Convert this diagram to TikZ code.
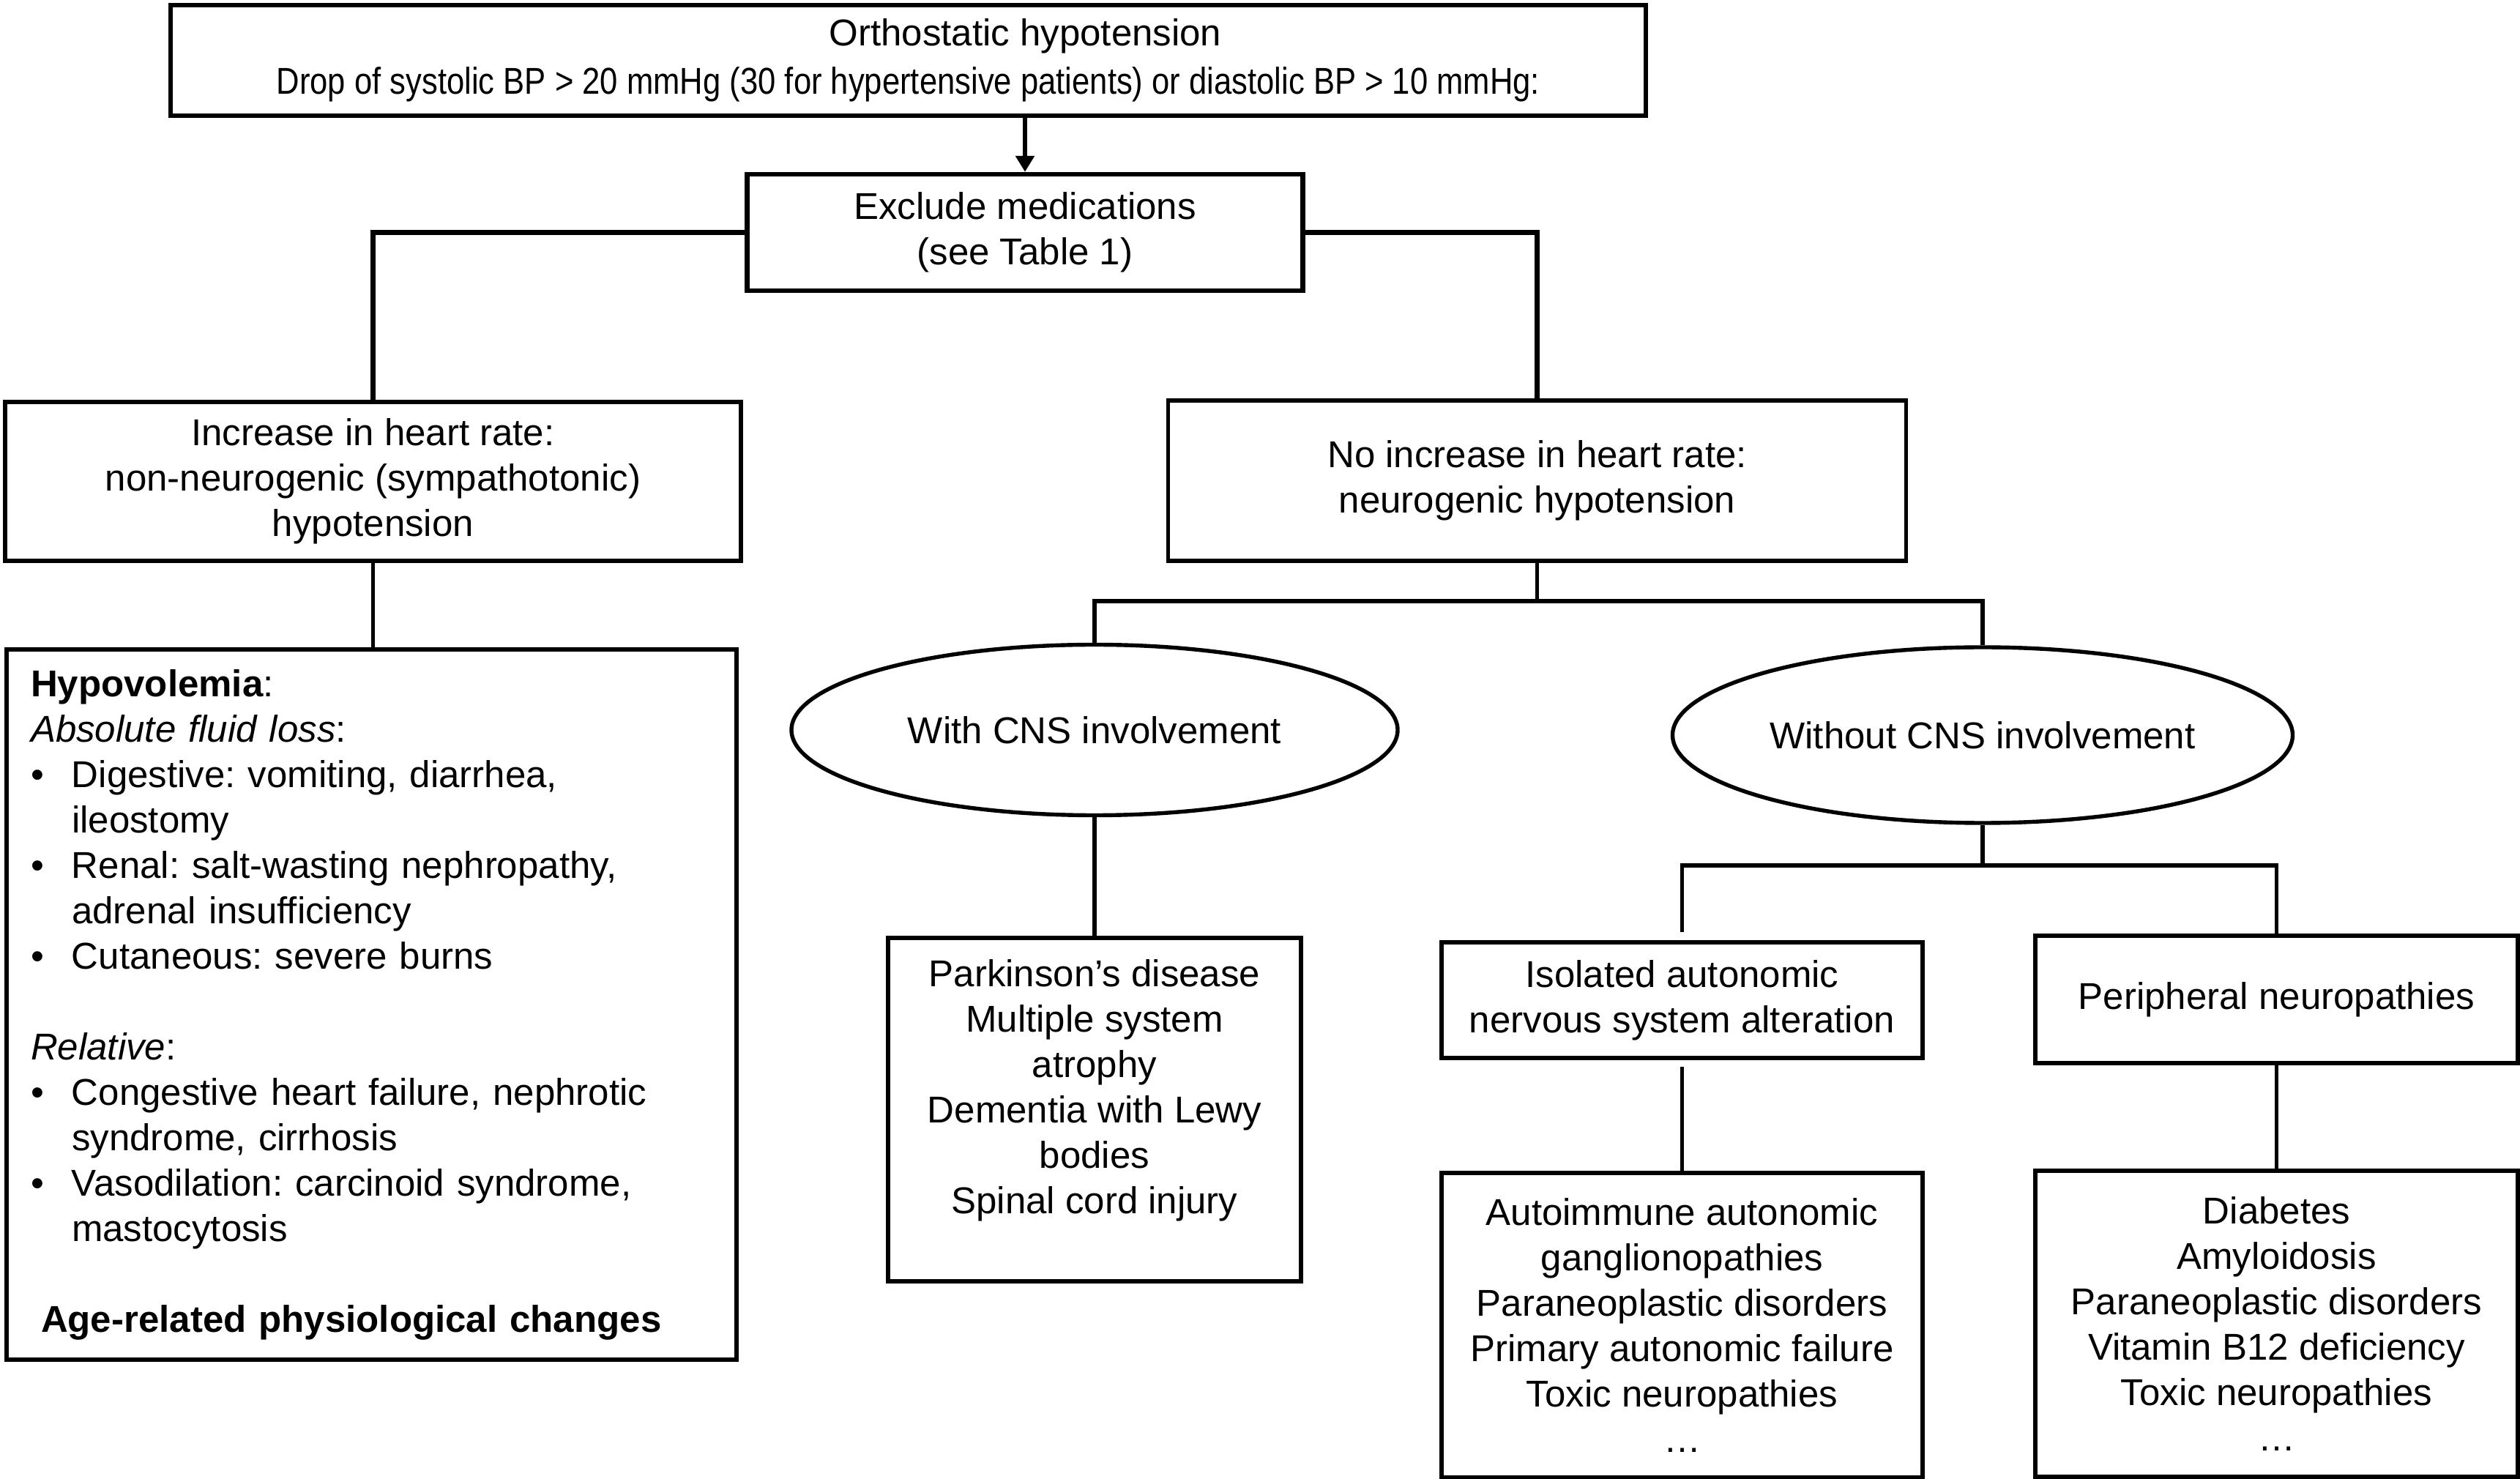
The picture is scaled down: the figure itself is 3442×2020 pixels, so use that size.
\documentclass[tikz,border=0pt]{standalone}
\usepackage{fontspec}
\usepackage{graphicx}
\setmainfont{Liberation Sans}
\usetikzlibrary{shapes.geometric,arrows.meta}
\begin{document}
\frenchspacing
\begin{tikzpicture}[x=0.25pt,y=-0.25pt,
  every node/.style={font=\fontsize{12.75pt}{15.5pt}\selectfont},
  box/.style={draw, line width=1.35pt, rectangle, inner sep=0pt, align=center},
  heavybox/.style={box, line width=1.6pt},
  oval/.style={draw, ellipse, line width=1.35pt, inner sep=0pt, align=center},
  conn/.style={line width=1.35pt},
  heavyconn/.style={line width=1.6pt},
]
\useasboundingbox (0,0) rectangle (3442,2020);

\node[heavybox, minimum width=503.75pt, minimum height=37.75pt] (top) at (1240.5,82.5)
  {\hspace*{80pt}Orthostatic hypotension\\[1pt]\scalebox{0.855}[1]{Drop of systolic BP > 20 mmHg (30 for hypertensive patients) or diastolic BP > 10 mmHg:}};
\node[heavybox, minimum width=189.75pt, minimum height=39.75pt] (exclude) at (1400,317.5)
  {Exclude medications\\(see Table 1)};
\node[box, minimum width=251.25pt, minimum height=54.25pt] (increase) at (509.5,657.5)
  {Increase in heart rate:\\non-neurogenic (sympathotonic)\\hypotension};
\node[box, minimum width=252pt, minimum height=54.75pt] (noinc) at (2099.5,656.5)
  {No increase in heart rate:\\neurogenic hypotension};
\node[box, align=left, text width=232.75pt, inner xsep=8.25pt, minimum height=242.5pt] (hypo) at (507.5,1372)
  {\textbf{Hypovolemia}:\\
   \textit{Absolute fluid loss}:\\
   \makebox[14pt][l]{\textbullet}Digestive: vomiting, diarrhea,\\
   \hspace*{14pt}ileostomy\\
   \makebox[14pt][l]{\textbullet}Renal: salt-wasting nephropathy,\\
   \hspace*{14pt}adrenal insufficiency\\
   \makebox[14pt][l]{\textbullet}Cutaneous: severe burns\\
   \mbox{}\\
   \textit{Relative}:\\
   \makebox[14pt][l]{\textbullet}Congestive heart failure, nephrotic\\
   \hspace*{14pt}syndrome, cirrhosis\\
   \makebox[14pt][l]{\textbullet}Vasodilation: carcinoid syndrome,\\
   \hspace*{14pt}mastocytosis\\
   \mbox{}\\
   \hspace*{3.5pt}\textbf{Age-related physiological changes}};
\node[oval, minimum width=207pt, minimum height=58.25pt] (withcns) at (1495,997)
  {With CNS involvement};
\node[oval, minimum width=211.75pt, minimum height=60pt] (withoutcns) at (2708,1004)
  {Without CNS involvement};
\node[box, minimum width=141pt, minimum height=117.25pt] (park) at (1495,1515.5)
  {Parkinson’s disease\\Multiple system\\atrophy\\Dementia with Lewy\\bodies\\Spinal cord injury\\\mbox{}};
\node[box, minimum width=164.25pt, minimum height=39.5pt] (iso) at (2297.5,1366)
  {Isolated autonomic\\nervous system alteration};
\node[box, minimum width=164.75pt, minimum height=43.5pt] (peri) at (3109.5,1365)
  {Peripheral neuropathies};
\node[box, minimum width=164.25pt, minimum height=104pt] (auto) at (2297.5,1810)
  {Autoimmune autonomic\\ganglionopathies\\Paraneoplastic disorders\\Primary autonomic failure\\Toxic neuropathies\\…};
\node[box, minimum width=164.75pt, minimum height=104.5pt] (diab) at (3109.5,1808)
  {Diabetes\\Amyloidosis\\Paraneoplastic disorders\\Vitamin B12 deficiency\\Toxic neuropathies\\…};

\coordinate (b1) at (2099.5,821);
\coordinate (b2) at (2708,1182);

\draw[heavyconn,-{Triangle[length=5.5pt,width=6.25pt]}] (top.south -| exclude.north) -- (exclude.north);
\draw[heavyconn] (exclude.west) -| (increase.north);
\draw[heavyconn] (exclude.east) -| (noinc.north);
\draw[conn] (increase.south) -- (increase.south |- hypo.north);
\draw[conn] (noinc.south) -- (b1);
\draw[conn] (withcns.north) |- (b1) -| (withoutcns.north);
\draw[conn] (withcns.south) -- (park.north);
\draw[conn] (withoutcns.south) -- (b2);
\draw[conn] ([yshift=2.75pt]iso.north) |- (b2) -| (peri.north);
\draw[conn] ([yshift=-2.25pt]iso.south) -- (auto.north);
\draw[conn] (peri.south) -- (diab.north);
\end{tikzpicture}
\end{document}
